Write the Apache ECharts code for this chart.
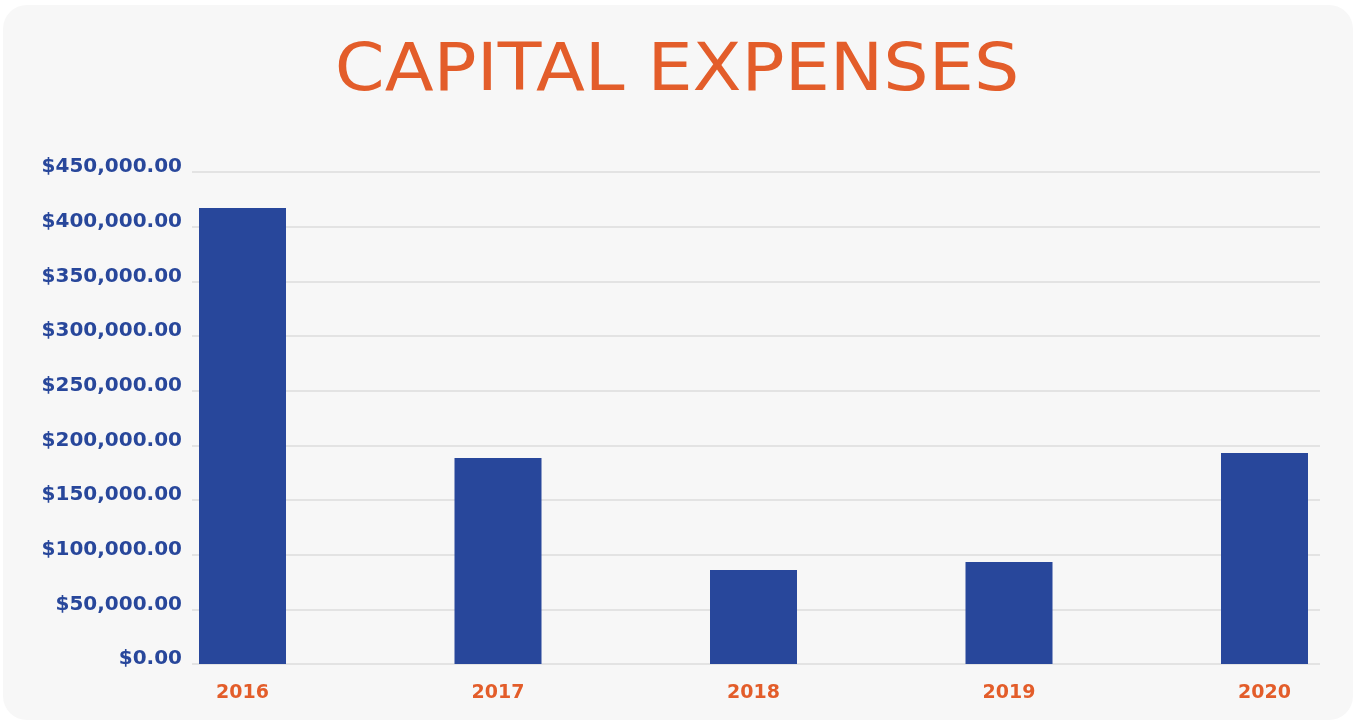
<!DOCTYPE html>
<html>
<head>
<meta charset="utf-8">
<script src="https://cdn.jsdelivr.net/npm/echarts@6/dist/echarts.min.js"></script>
<style>
  html, body { margin: 0; padding: 0; background: #ffffff; }
  #chart { width: 1354px; height: 723px; }
</style>
</head>
<body>
<div id="chart"></div>
<script>
// Capital expenses per year
const years = ['2016', '2017', '2018', '2019', '2020'];
const expenses = [417000, 188400, 86000, 93300, 193000];
const yMin = 0;
const yMax = 450000;
const yStep = 50000;

const BLUE = '#28479b';
const ORANGE = '#e35d2a';
const FONT = '"DejaVu Sans", sans-serif';

function money(v) {
  return '$' + v.toLocaleString('en-US', { minimumFractionDigits: 2, maximumFractionDigits: 2 });
}

const chart = echarts.init(document.getElementById('chart'), null, { renderer: 'canvas' });

chart.setOption({
  animation: false,
  backgroundColor: '#ffffff',
  graphic: [
    {
      type: 'rect',
      z: -10,
      shape: { x: 3, y: 5, width: 1350, height: 715, r: 24 },
      style: { fill: '#f7f7f7' }
    },
    {
      type: 'text',
      x: 677,
      y: 73,
      scaleX: 1.1,
      style: {
        text: 'CAPITAL EXPENSES',
        fill: ORANGE,
        font: 'normal 65px ' + FONT,
        textAlign: 'center',
        textVerticalAlign: 'middle'
      }
    }
  ],
  grid: [
    // value scale and gridlines
    { left: 192, right: 34, top: 172, bottom: 59, outerBoundsMode: 'none' },
    // bars and year labels; the band grid runs past the card on both sides
    { left: 114.75, width: 1277.5, top: 172, bottom: 59, outerBoundsMode: 'none' }
  ],
  xAxis: [
    { type: 'value', gridIndex: 0, show: false, min: 0, max: 1 },
    {
      type: 'category',
      gridIndex: 1,
      data: years,
      boundaryGap: true,
      axisLine: { show: false },
      axisTick: { show: false },
      axisLabel: { color: ORANGE, fontFamily: FONT, fontWeight: 'bold', fontSize: 19, margin: 20 }
    }
  ],
  yAxis: [
    {
      type: 'value',
      gridIndex: 0,
      min: yMin,
      max: yMax,
      interval: yStep,
      axisLine: { show: false },
      axisTick: { show: false },
      splitLine: { lineStyle: { color: '#dcdcdc', width: 1.5 } },
      axisLabel: {
        color: BLUE, fontFamily: FONT, fontWeight: 'bold', fontSize: 20,
        margin: 10, verticalAlign: 'bottom', lineHeight: 10, formatter: money
      }
    },
    {
      type: 'value',
      gridIndex: 1,
      min: yMin,
      max: yMax,
      interval: yStep,
      show: false,
      splitLine: { show: false }
    }
  ],
  series: [
    {
      type: 'bar',
      xAxisIndex: 1,
      yAxisIndex: 1,
      data: expenses,
      barWidth: 87,
      itemStyle: { color: BLUE }
    }
  ]
});
</script>
</body>
</html>
